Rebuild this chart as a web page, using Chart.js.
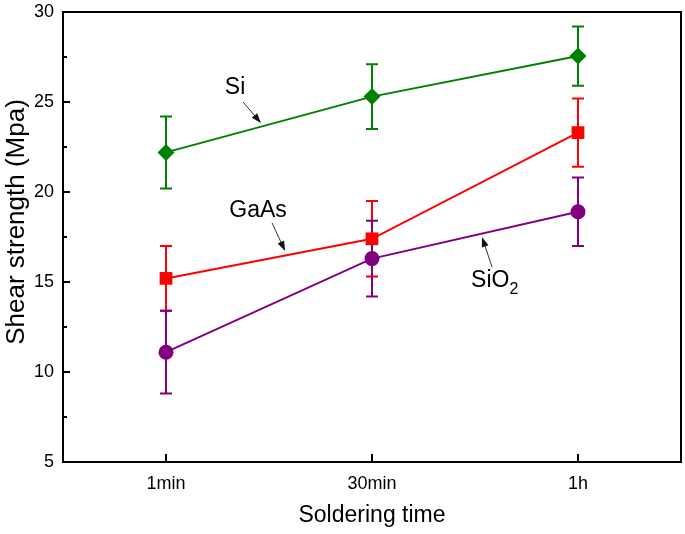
<!DOCTYPE html>
<html>
<head>
<meta charset="utf-8">
<script src="https://cdn.jsdelivr.net/npm/chart.js@4.4.1/dist/chart.umd.min.js"></script>
<style>
  html, body { margin: 0; padding: 0; background: #fff; }
  #wrap { width: 685px; height: 534px; }
</style>
</head>
<body>
<div id="wrap"><canvas id="chart" width="685" height="534"></canvas></div>
<script>
// categories
var times = ['1min', '30min', '1h'];
// mean values
var si = [22.2, 25.3, 27.55];
var gaas = [15.2, 17.4, 23.3];
var sio2 = [11.1, 16.3, 18.9];
// error bars (+/-)
var siErr = [2.0, 1.8, 1.65];
var gaasErr = [1.8, 2.1, 1.9];
var sio2Err = [2.3, 2.1, 1.9];
// y ticks
var yTicks = [5, 10, 15, 20, 25, 30];

var xTitle = 'Soldering time';
var yTitle = 'Shear strength (Mpa)';

var FONT = '"Liberation Sans", Arial, sans-serif';

// annotation labels: [text, sub, x index, y value, arrow tail x, tail y, head x, head y]
var notes = [
    ['Si', '', 0.335, 25.8, 0.374, 25.0, 0.461, 23.83],
    ['GaAs', '', 0.447, 18.95, 0.515, 18.28, 0.578, 16.72],
    ['SiO', '2', 1.603, 15.08, 1.583, 15.83, 1.534, 17.5]
];

var errorBars = {
    id: 'errorBars',
    beforeDatasetsDraw: function(chart) {
        var ctx = chart.ctx;
        var x = chart.scales.x, y = chart.scales.y;
        chart.data.datasets.forEach(function(ds) {
            ctx.save();
            ctx.strokeStyle = ds.borderColor;
            ctx.lineWidth = 2;
            for (var i = 0; i < ds.data.length; i++) {
                var px = x.getPixelForValue(i);
                var top = y.getPixelForValue(ds.data[i] + ds.err[i]);
                var bot = y.getPixelForValue(ds.data[i] - ds.err[i]);
                ctx.beginPath();
                ctx.moveTo(px, top); ctx.lineTo(px, bot);
                ctx.moveTo(px - 6, top); ctx.lineTo(px + 6, top);
                ctx.moveTo(px - 6, bot); ctx.lineTo(px + 6, bot);
                ctx.stroke();
            }
            ctx.restore();
        });
    }
};

var frame = {
    id: 'frame',
    afterDraw: function(chart) {
        var ctx = chart.ctx, a = chart.chartArea;
        var x = chart.scales.x, y = chart.scales.y;
        ctx.save();
        ctx.strokeStyle = '#000';
        ctx.lineWidth = 2;
        ctx.strokeRect(a.left, a.top, a.right - a.left, a.bottom - a.top);
        ctx.beginPath();
        // inward ticks on y (major + minor)
        for (var v = 5; v <= 30; v += 2.5) {
            var py = y.getPixelForValue(v);
            var len = (v % 5 === 0) ? 7 : 4;
            ctx.moveTo(a.left, py); ctx.lineTo(a.left + len, py);
        }
        for (var i = 0; i < times.length; i++) {
            var px = x.getPixelForValue(i);
            ctx.moveTo(px, a.bottom); ctx.lineTo(px, a.bottom - 8);
        }
        ctx.stroke();

        // axis titles
        ctx.fillStyle = '#000';
        ctx.textAlign = 'center';
        ctx.textBaseline = 'middle';
        ctx.font = '23px ' + FONT;
        ctx.fillText(xTitle, (a.left + a.right) / 2, 516);
        ctx.save();
        ctx.translate(17, 222);
        ctx.rotate(-Math.PI / 2);
        ctx.font = '26px ' + FONT;
        ctx.fillText(yTitle, 0, 0);
        ctx.restore();

        // annotations
        ctx.font = '23px ' + FONT;
        notes.forEach(function(n) {
            var tx = x.getPixelForValue(n[2]), ty = y.getPixelForValue(n[3]);
            var w = ctx.measureText(n[0]).width;
            if (n[1]) {
                ctx.textAlign = 'left';
                ctx.fillText(n[0], tx - w / 2 - 6, ty);
                ctx.font = '16px ' + FONT;
                ctx.fillText(n[1], tx + w / 2 - 6, ty + 9);
                ctx.font = '23px ' + FONT;
            } else {
                ctx.textAlign = 'center';
                ctx.fillText(n[0], tx, ty);
            }
            var x1 = x.getPixelForValue(n[4]), y1 = y.getPixelForValue(n[5]);
            var x2 = x.getPixelForValue(n[6]), y2 = y.getPixelForValue(n[7]);
            var ang = Math.atan2(y2 - y1, x2 - x1);
            ctx.strokeStyle = '#333';
            ctx.lineWidth = 1;
            ctx.beginPath();
            ctx.moveTo(x1, y1); ctx.lineTo(x2 - 6 * Math.cos(ang), y2 - 6 * Math.sin(ang));
            ctx.stroke();
            ctx.fillStyle = '#111';
            ctx.beginPath();
            ctx.moveTo(x2, y2);
            ctx.lineTo(x2 - 10 * Math.cos(ang) + 3.5 * Math.sin(ang), y2 - 10 * Math.sin(ang) - 3.5 * Math.cos(ang));
            ctx.lineTo(x2 - 10 * Math.cos(ang) - 3.5 * Math.sin(ang), y2 - 10 * Math.sin(ang) + 3.5 * Math.cos(ang));
            ctx.closePath();
            ctx.fill();
            ctx.fillStyle = '#000';
        });
        ctx.restore();
    }
};

new Chart(document.getElementById('chart'), {
    type: 'line',
    data: {
        labels: times,
        datasets: [{
            label: 'Si',
            data: si,
            err: siErr,
            borderColor: '#008000',
            backgroundColor: '#008000',
            borderWidth: 2,
            pointStyle: 'rectRot',
            pointRadius: 8.5,
            pointBorderWidth: 0
        }, {
            label: 'GaAs',
            data: gaas,
            err: gaasErr,
            borderColor: '#ff0000',
            backgroundColor: '#ff0000',
            borderWidth: 2,
            pointStyle: 'rect',
            pointRadius: 9,
            pointBorderWidth: 0
        }, {
            label: 'SiO2',
            data: sio2,
            err: sio2Err,
            borderColor: '#800080',
            backgroundColor: '#800080',
            borderWidth: 2,
            pointStyle: 'circle',
            pointRadius: 7.5,
            pointBorderWidth: 0
        }]
    },
    options: {
        responsive: false,
        animation: false,
        layout: { autoPadding: false, padding: { top: 12, right: 4, left: 0, bottom: 0 } },
        plugins: {
            legend: { display: false },
            tooltip: { enabled: false }
        },
        scales: {
            x: {
                type: 'category',
                offset: true,
                grid: { display: false, drawTicks: false },
                border: { display: false },
                ticks: { color: '#000', font: { family: FONT, size: 18 }, padding: 11 },
                afterFit: function(s) { s.height = 72; s.paddingLeft = 0; s.paddingRight = 0; }
            },
            y: {
                min: 5,
                max: 30,
                afterBuildTicks: function(s) { s.ticks = yTicks.map(function(v) { return { value: v }; }); },
                grid: { display: false, drawTicks: false },
                border: { display: false },
                ticks: { color: '#000', font: { family: FONT, size: 18 }, padding: 9 },
                afterFit: function(s) { s.width = 63; s.paddingTop = 0; s.paddingBottom = 0; }
            }
        }
    },
    plugins: [errorBars, frame]
});
</script>
</body>
</html>
